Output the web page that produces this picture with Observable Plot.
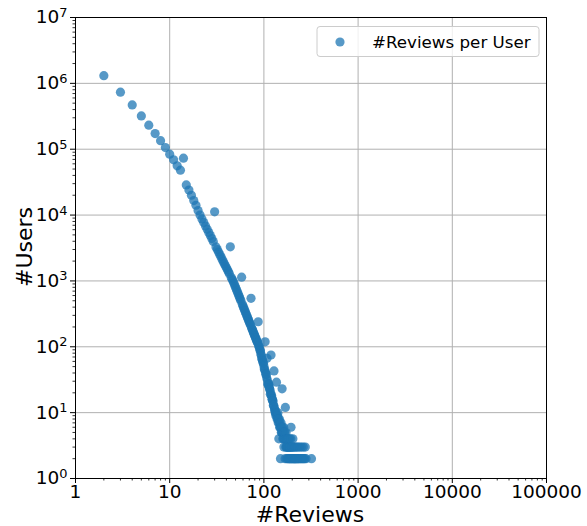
<!DOCTYPE html>
<html><head><meta charset="utf-8">
<script src="https://cdn.jsdelivr.net/npm/d3@7"></script>
<script src="https://cdn.jsdelivr.net/npm/@observablehq/plot@0.6"></script>
<style>
body{margin:0;background:#fff;}
#chart{width:587px;height:526px;}
</style></head><body><div id="chart"></div>
<script>
const reviews = [2,3,4,5,6,7,8,9,10,11,12,13,14,15,16,17,18,19,20,21,22,23,24,25,26,27,28,29,30,31,32,33,34,35,36,37,38,39,40,41,42,43,44,45,46,47,48,49,50,51,52,53,54,55,56,57,58,59,60,61,62,63,64,65,66,67,68,69,70,71,72,73,74,75,76,77,78,79,80,81,82,83,84,85,86,87,88,89,90,91,92,93,94,95,96,97,98,99,100,101,102,103,104,105,106,107,108,109,110,111,112,113,114,115,116,117,118,119,120,121,122,123,124,125,126,127,128,129,130,131,132,133,134,135,136,137,138,139,140,141,142,143,144,145,146,147,148,149,150,151,152,153,154,155,156,157,158,159,160,161,162,163,164,165,166,167,168,169,170,171,172,173,174,175,176,177,178,179,180,181,182,183,184,185,186,187,188,189,190,192,193,194,195,196,197,198,200,202,203,205,206,208,210,212,214,216,218,220,223,225,228,230,233,236,240,243,247,250,254,258,262,266,270,275,280,320];
const users = [1310000,735000,471000,320000,232000,173000,135000,106000,84000,69000,56000,48000,73000,28700,24000,20000,16600,14100,11700,10000,8750,7700,6820,6070,5430,4880,4400,3970,11200,3280,3000,2750,2520,2320,2140,1980,1830,1700,1580,1480,1380,1290,3300,1130,1060,1000,927,860,800,745,695,649,607,568,532,499,1140,442,415,391,369,348,329,311,294,279,265,251,238,226,215,544,195,186,178,169,161,154,147,141,135,129,124,118,114,240,104,100,94,88,86,77,73,66,64,61,57,56,51,46,45,119,41,38,38,34,67,31,27,28,26,27,24,23,22,19,20,75,18,18,16,16,15,15,13,13,43,12,11,11,10,10,9,10,29,9,8,9,8,10,7,8,4,7,8,6,7,6,2,6,7,5,6,5,23,5,6,4,5,4,6,3,5,4,5,4,2,12,4,3,5,3,4,2,3,4,3,2,4,3,4,2,3,3,2,4,3,2,3,2,4,6,3,2,3,2,3,2,4,3,2,2,3,2,2,3,2,2,3,2,2,3,2,2,3,2,2,3,2,2,3,2,2,3,2,2];
const seriesName = "#Reviews per User";
const xLabel = "#Reviews";
const yLabel = "#Users";
const xTicks = [1, 10, 100, 1000, 10000, 100000];
const xTickLabels = ["1", "10", "100", "1000", "10000", "100000"];
const yTicks = [1, 10, 100, 1000, 10000, 100000, 1000000, 10000000];
const yTickExponents = ["0", "1", "2", "3", "4", "5", "6", "7"];

const data = reviews.map((r, i) => ({reviews: r, users: users[i]}));
const minorX = [];
for (let d = 1; d < 100000; d *= 10) for (let k = 2; k <= 9; k++) minorX.push(d * k);
const minorY = [];
for (let d = 1; d < 10000000; d *= 10) for (let k = 2; k <= 9; k++) minorY.push(d * k);

const plot = Plot.plot({
  width: 587, height: 526,
  marginLeft: 75, marginRight: 41, marginTop: 17, marginBottom: 48,
  style: {fontFamily: "DejaVu Sans", background: "white", color: "black"},
  x: {type: "log", domain: [1, 100000], label: null},
  y: {type: "log", domain: [1, 10000000], label: null},
  marks: [
    Plot.gridX(xTicks, {stroke: "#b0b0b0", strokeOpacity: 1, strokeWidth: 1}),
    Plot.gridY(yTicks, {stroke: "#b0b0b0", strokeOpacity: 1, strokeWidth: 1}),
    Plot.dot(data, {x: "reviews", y: "users", r: 4.6, fill: "#1f77b4", fillOpacity: 0.75, stroke: null}),
    Plot.axisX(minorX, {tickSize: 2.5, tickFormat: () => "", label: null, strokeWidth: 0.8}),
    Plot.axisX(xTicks, {tickSize: 5, tickPadding: 1, tickFormat: d => xTickLabels[xTicks.indexOf(d)], fontSize: 18.5, label: null}),
    Plot.axisY(minorY, {tickSize: 2.5, tickFormat: () => "", label: null, strokeWidth: 0.8}),
    Plot.axisY(yTicks, {tickSize: 5, tickPadding: 3, tickFormat: d => yTickExponents[yTicks.indexOf(d)], fontSize: 18.5, label: null}),
    Plot.frame({stroke: "black", strokeWidth: 1})
  ]
});

const svg = d3.select(plot);
svg.selectAll('g[aria-label="y-axis tick label"] text').each(function() {
  const t = d3.select(this);
  const exp = t.text();
  if (!exp) return;
  t.text(null);
  t.append("tspan").text("10");
  t.append("tspan").attr("dy", "-0.5em").attr("font-size", "0.7em").text(exp);
});

const lg = svg.append("g").attr("font-family", "DejaVu Sans");
lg.append("rect").attr("x", 317).attr("y", 26.5).attr("width", 222).attr("height", 30).attr("rx", 3)
  .attr("fill", "white").attr("fill-opacity", 0.8).attr("stroke", "#cccccc");
lg.append("circle").attr("cx", 340).attr("cy", 42).attr("r", 4.6).attr("fill", "#1f77b4").attr("fill-opacity", 0.75);
lg.append("text").attr("x", 372).attr("y", 42).attr("dy", "0.35em").attr("text-anchor", "start")
  .attr("font-size", 16.7).text(seriesName);

svg.append("text").attr("x", 310).attr("y", 521.5).attr("text-anchor", "middle")
  .attr("font-family", "DejaVu Sans").attr("font-size", 22).text(xLabel);
svg.append("text").attr("transform", "translate(32,247) rotate(-90)").attr("text-anchor", "middle")
  .attr("font-family", "DejaVu Sans").attr("font-size", 22).text(yLabel);

document.getElementById("chart").appendChild(plot);
</script></body></html>
